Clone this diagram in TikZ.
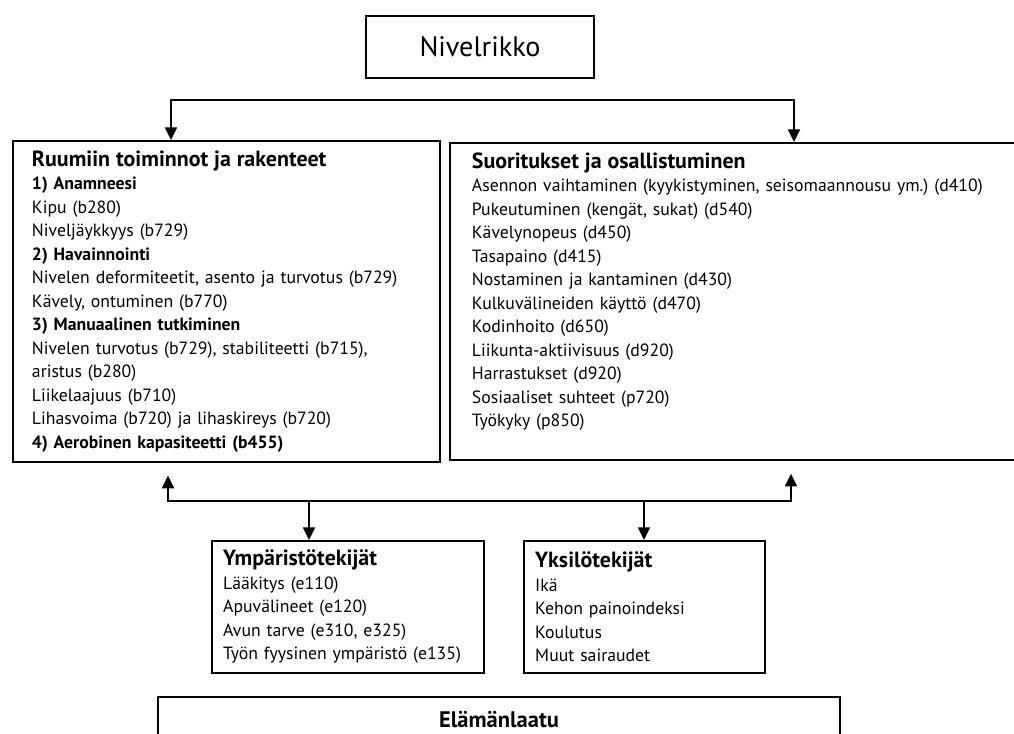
\documentclass[tikz,border=0pt]{standalone}
\usepackage{fontspec}
\setmainfont{PT Sans}
\usetikzlibrary{arrows.meta}
\frenchspacing
\tikzset{
  box/.style={draw, line width=1.4pt, rectangle, inner xsep=13.5pt, inner ysep=7pt,
    align=left, anchor=north west, font=\fontsize{12.6}{16.7}\selectfont},
  arr/.style={line width=1.4pt, -{Triangle[length=9pt,width=8.5pt]}},
  arrLR/.style={line width=1.4pt, {Triangle[length=9pt,width=8.5pt]}-{Triangle[length=9pt,width=8.5pt]}}
}
\newcommand*{\BoxTitle}[1]{{\fontsize{15.6}{16.7}\selectfont\bfseries #1}}

\begin{document}
\begin{tikzpicture}[x=0.025cm,y=-0.025cm]
\useasboundingbox (0,0) rectangle (1014,734);

\node[box, anchor=center, align=center, inner sep=0pt, minimum width=162.2pt,
  minimum height=44.1pt, font=\fontsize{20}{24}\selectfont] (nivelrikko) at (480,47) {Nivelrikko};

\node[box, text width=276.7pt] (ruumis) at (12,140) {\BoxTitle{Ruumiin toiminnot ja rakenteet}\\
\textbf{1) Anamneesi}\\
Kipu (b280)\\
Niveljäykkyys (b729)\\
\textbf{2) Havainnointi}\\
Nivelen deformiteetit, asento ja turvotus (b729)\\
Kävely, ontuminen (b770)\\
\textbf{3) Manuaalinen tutkiminen}\\
Nivelen turvotus (b729), stabiliteetti (b715),\\
aristus (b280)\\
Liikelaajuus (b710)\\
Lihasvoima (b720) ja lihaskireys (b720)\\
\textbf{4) Aerobinen kapasiteetti (b455)}};

\node[box, inner xsep=15.6pt, text width=400pt] (suoritus) at (449,142) {\BoxTitle{Suoritukset ja osallistuminen}\\
Asennon vaihtaminen (kyykistyminen, seisomaannousu ym.) (d410)\\
Pukeutuminen (kengät, sukat) (d540)\\
Kävelynopeus (d450)\\
Tasapaino (d415)\\
Nostaminen ja kantaminen (d430)\\
Kulkuvälineiden käyttö (d470)\\
Kodinhoito (d650)\\
Liikunta-aktiivisuus (d920)\\
Harrastukset (d920)\\
Sosiaaliset suhteet (p720)\\
Työkyky (p850)\\
\mbox{}};

\node[box, inner xsep=8pt, inner ysep=5pt, text width=177.5pt, minimum height=93.9pt] (ymparisto) at (211,540) {\BoxTitle{Ympäristötekijät}\\
Lääkitys (e110)\\
Apuvälineet (e120)\\
Avun tarve (e310, e325)\\
Työn fyysinen ympäristö (e135)};

\node[box, inner xsep=8pt, inner ysep=5pt, text width=155.4pt, minimum height=93.9pt] (yksilo) at (523,540) {\BoxTitle{Yksilötekijät}\\
Ikä\\
Kehon painoindeksi\\
Koulutus\\
Muut sairaudet};

\node[box, anchor=center, align=center, inner sep=0pt, minimum width=485.1pt,
  minimum height=32.7pt, font=\fontsize{16}{19}\selectfont\bfseries] (elamanlaatu) at (499,720) {Elämänlaatu};

\coordinate (topL) at (171,100);
\coordinate (topR) at (794,100);
\draw[arrLR] (ruumis.north -| topL) -- (topL) -- (topR) -- (suoritus.north -| topR);

\coordinate (botL) at (168,501);
\coordinate (botR) at (791,501);
\draw[arrLR, shorten <=9pt, shorten >=9pt] (ruumis.south -| botL) -- (botL) -- (botR) -- (suoritus.south -| botR);

\coordinate (dnL) at (309,501);
\coordinate (dnR) at (644,501);
\draw[arr] (dnL) -- (ymparisto.north -| dnL);
\draw[arr] (dnR) -- (yksilo.north -| dnR);

\end{tikzpicture}
\end{document}
